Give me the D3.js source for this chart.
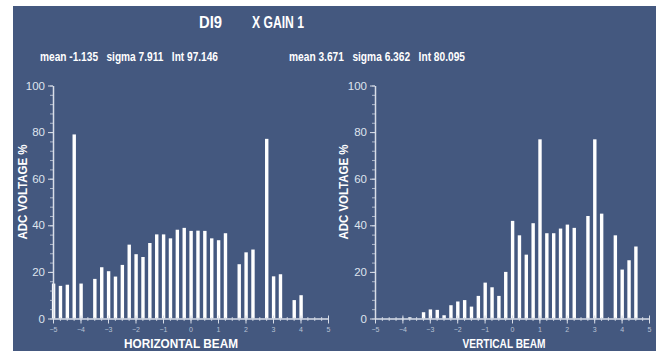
<!DOCTYPE html>
<html>
<head>
<meta charset="utf-8">
<script src="https://cdn.jsdelivr.net/npm/d3@7"></script>
<style>
  body { margin: 0; background: #fff; }
  text { font-family: "Liberation Sans", Arial, sans-serif; }
  .bold { font-family: "Liberation Sans", sans-serif; font-weight: bold; white-space: pre; }
</style>
</head>
<body>
<div id="chart"></div>
<script>
// Dati
const hPos = [-5, -4.75, -4.5, -4.25, -4, -3.5, -3.25, -3, -2.75, -2.5, -2.25, -2, -1.75, -1.5, -1.25, -1,
  -0.75, -0.5, -0.25, 0, 0.25, 0.5, 0.75, 1, 1.25, 1.75, 2, 2.25, 2.75, 3, 3.25, 3.75, 4];
const hVal = [15, 14, 14.5, 79, 15, 17, 22, 20.3, 18, 23, 31.7, 27.6, 26.4, 32.4, 36.1, 36.1,
  34.4, 38.1, 38.9, 37.6, 37.7, 37.6, 34.4, 33.6, 36.6, 23.3, 28.4, 29.6, 77.1, 18.1, 19, 7.9, 10];

const vPos = [-3.75, -3.25, -3, -2.75, -2.5, -2.25, -2, -1.75, -1.5, -1.25, -1, -0.75, -0.5, -0.25,
  0, 0.25, 0.5, 0.75, 1, 1.25, 1.5, 1.75, 2, 2.25, 2.75, 3, 3.25, 3.75, 4, 4.25, 4.5];
const vVal = [0.5, 2.7, 3.9, 3.7, 1.4, 5.7, 7.3, 7.9, 5.1, 9.7, 15.4, 13.4, 9.7, 20,
  41.9, 35.7, 27.4, 40.9, 76.9, 36.6, 36.6, 38.6, 40.3, 38.9, 44, 76.9, 45, 35.7, 21, 25, 30.9];

const xTicks = [-5, -4, -3, -2, -1, 0, 1, 2, 3, 4, 5];
const yTicks = [0, 20, 40, 60, 80, 100];

const titleParts = ['DI9', 'X GAIN 1'];
const hStats = ['mean -1.135', 'sigma 7.911', 'Int 97.146'];
const vStats = ['mean 3.671', 'sigma 6.362', 'Int 80.095'];

// Variabili
const [width, height] = [665, 351];
const bg = '#44587f';
const axisColor = '#d9dee8';
const barWidth = 3.4;

const svg = d3.select('#chart').append('svg')
  .attr('width', width)
  .attr('height', height);

svg.append('rect')
  .attr('x', 13).attr('y', 6)
  .attr('width', 643).attr('height', 345)
  .attr('fill', bg);

// testo in grassetto stretto (il font originale e' piu' stretto)
const boldText = (parent, x, y, str, len, size) => parent.append('text')
  .attr('class', 'bold')
  .attr('x', x).attr('y', y)
  .attr('fill', '#fff')
  .style('font-size', `${size}px`)
  .attr('textLength', len)
  .attr('lengthAdjust', 'spacingAndGlyphs')
  .text(str);

// Titolo
boldText(svg, 199, 28, titleParts[0], 23, 16);
boldText(svg, 252, 28, titleParts[1], 52, 16);

// statistiche: una riga per pannello
boldText(svg, 40, 61, hStats.join('   '), 178, 13.5);
boldText(svg, 289, 61, vStats.join('   '), 176, 13.5);

const drawPanel = (pos, val, x0, x1, xLabel, xLabelCx, xLabelLen, yLabelX) => {
  const xScale = d3.scaleLinear().domain([-5, 5]).range([x0, x1]);
  const yScale = d3.scaleLinear().domain([0, 100]).range([318.5, 85.5]);
  const g = svg.append('g');

  // barre
  g.selectAll('rect.bar')
    .data(pos.map((p, i) => ({ p, v: val[i] })))
    .enter()
    .append('rect')
    .attr('class', 'bar')
    .attr('x', (d) => xScale(d.p) - barWidth / 2 + 0.6)
    .attr('y', (d) => yScale(d.v))
    .attr('width', barWidth)
    .attr('height', (d) => yScale(0) - yScale(d.v))
    .attr('fill', '#fff');

  // asse y
  const yMinor = g.append('g')
    .attr('transform', `translate(${x0},0)`)
    .call(d3.axisLeft(yScale).tickValues(d3.range(0, 101, 4)).tickSize(3).tickFormat(''));
  yMinor.select('.domain').remove();
  yMinor.selectAll('line').attr('stroke', axisColor).attr('stroke-opacity', 0.7);

  const yAxis = g.append('g')
    .attr('transform', `translate(${x0},0)`)
    .call(d3.axisLeft(yScale).tickValues(yTicks).tickSize(5).tickSizeOuter(0).tickPadding(3));
  yAxis.select('.domain').attr('stroke', axisColor).attr('stroke-width', 1.5);
  yAxis.selectAll('line').attr('stroke', axisColor);
  yAxis.selectAll('text').attr('fill', '#dfe4ee').style('font-size', '11.5px')
    .style('font-family', '"Liberation Sans", sans-serif');

  // asse x
  const xMinor = g.append('g')
    .attr('transform', `translate(0,${yScale(0)})`)
    .call(d3.axisBottom(xScale).tickValues(d3.range(-5, 5.01, 0.25)).tickSize(3).tickFormat(''));
  xMinor.select('.domain').remove();
  xMinor.selectAll('line').attr('stroke', axisColor).attr('stroke-opacity', 0.8)
    .attr('y1', -1.5).attr('y2', 2.5);

  const xAxis = g.append('g')
    .attr('transform', `translate(0,${yScale(0)})`)
    .call(d3.axisBottom(xScale).tickValues(xTicks).tickSize(5).tickSizeOuter(0).tickPadding(4)
      .tickFormat(d3.format('d')));
  xAxis.select('.domain').attr('stroke', axisColor).attr('stroke-width', 1.5);
  xAxis.selectAll('line').attr('stroke', axisColor).attr('y1', -3);
  xAxis.selectAll('text').attr('fill', '#b9c2d4').style('font-size', '7px')
    .style('font-family', '"Liberation Sans", sans-serif');

  // etichette
  boldText(g, xLabelCx - xLabelLen / 2, 348, xLabel, xLabelLen, 12.5);

  boldText(g, 0, 0, 'ADC VOLTAGE %', 95, 13)
    .attr('x', null).attr('y', null)
    .attr('text-anchor', 'middle')
    .attr('transform', `translate(${yLabelX},192) rotate(-90)`);
};

drawPanel(hPos, hVal, 53, 328, 'HORIZONTAL BEAM', 181, 114, 27);
drawPanel(vPos, vVal, 375, 649, 'VERTICAL BEAM', 504, 83, 348);
</script>
</body>
</html>
